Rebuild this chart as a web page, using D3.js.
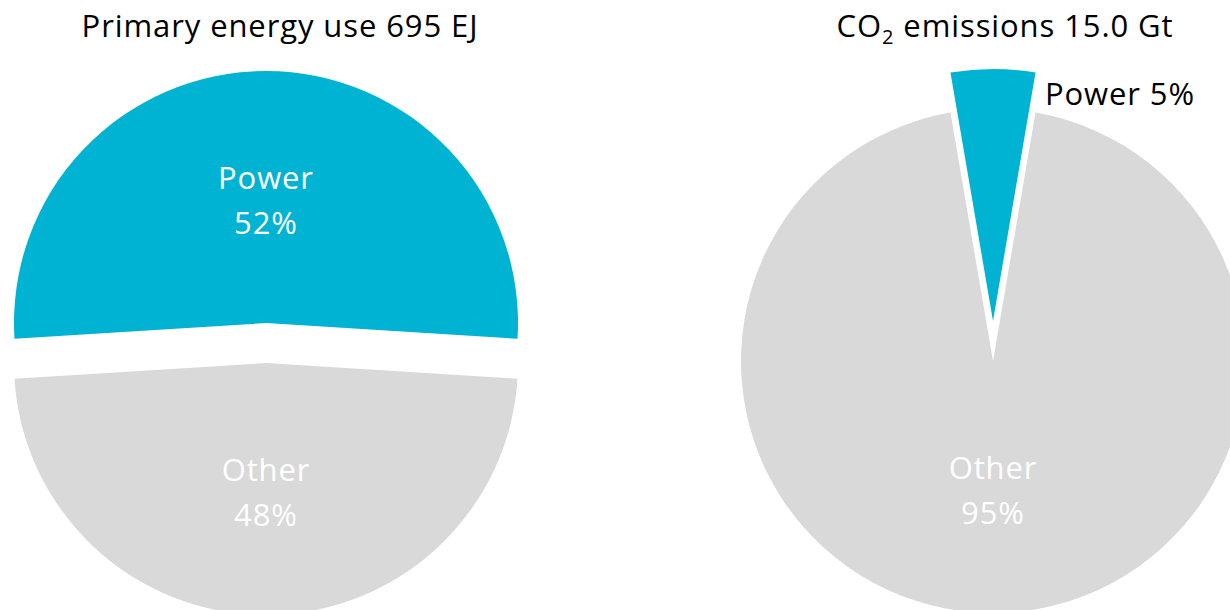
<!DOCTYPE html>
<html>
<head>
<meta charset="utf-8">
<script src="https://cdn.jsdelivr.net/npm/d3@7"></script>
<style>
  body { margin: 0; background: #fff; }
  svg { display: block; }
  text { font-family: "Open Sans", Lato, sans-serif; font-size: 31px; letter-spacing: 0.9px; }
</style>
</head>
<body>
<div class="chart-area"></div>
<script>
var categories = ["Power", "Other"];
var energyShare = [52, 48];
var co2Share = [5.4, 94.6];
var colors = ["#00B3D3", "#D9D9D9"];

var width = 1230,
    height = 610,
    radius = 252,
    explode = 20;

var svg = d3.select(".chart-area")
            .append("svg")
            .attr("width", width)
            .attr("height", height);

var arc = d3.arc().innerRadius(0).outerRadius(radius);

function drawPie(values, cx, cy) {
  var total = d3.sum(values),
      half = Math.PI * values[0] / total;
  var pie = d3.pie().sort(null)
              .startAngle(-half)
              .endAngle(2 * Math.PI - half);
  var arcs = pie(values).map(function(d, i) {
    var mid = (d.startAngle + d.endAngle) / 2;
    d.dx = Math.sin(mid) * explode;
    d.dy = -Math.cos(mid) * explode;
    d.mid = mid;
    d.name = categories[i];
    d.pct = Math.round(d.value / total * 100) + "%";
    return d;
  });
  var g = svg.append("g").attr("transform", "translate(" + cx + "," + cy + ")");
  g.selectAll("path")
   .data(arcs)
   .enter()
   .append("path")
   .attr("d", arc)
   .attr("fill", function(d, i) { return colors[i] })
   .attr("transform", function(d) { return "translate(" + d.dx + "," + d.dy + ")" });
  return { g: g, arcs: arcs };
}

function innerLabel(g, d) {
  var lx = d.dx + Math.sin(d.mid) * radius * 0.5,
      ly = d.dy - Math.cos(d.mid) * radius * 0.5;
  var t = g.append("text")
     .attr("text-anchor", "middle")
     .attr("fill", "#fff");
  t.append("tspan").attr("x", lx).attr("y", ly - 8).text(d.name);
  t.append("tspan").attr("x", lx).attr("y", ly + 37).text(d.pct);
}

// left pie
var left = drawPie(energyShare, 266, 343);
left.arcs.forEach(function(d) { innerLabel(left.g, d) });

// right pie, small slice labelled outside
var right = drawPie(co2Share, 993, 341);
right.arcs.forEach(function(d, i) {
  if (i == 0) {
    right.g.append("text")
       .attr("x", 52)
       .attr("y", -236)
       .attr("fill", "#000")
       .text(d.name + " " + d.pct);
  } else {
    innerLabel(right.g, d);
  }
});

// titles
svg.append("text")
   .attr("x", 280)
   .attr("y", 37)
   .attr("text-anchor", "middle")
   .text("Primary energy use 695 EJ");

var t2 = svg.append("text")
   .attr("x", 1005)
   .attr("y", 37)
   .attr("text-anchor", "middle");
t2.append("tspan").text("CO");
t2.append("tspan").attr("dy", 7).style("font-size", "20px").text("2");
t2.append("tspan").attr("dy", -7).text(" emissions 15.0 Gt");
</script>
</body>
</html>
